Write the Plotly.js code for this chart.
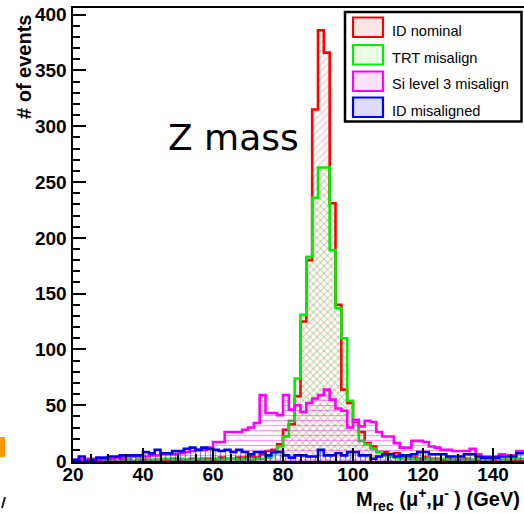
<!DOCTYPE html>
<html>
<head>
<meta charset="utf-8">
<script src="https://cdn.plot.ly/plotly-3.0.1.min.js"></script>
<style>
  html, body { margin: 0; padding: 0; overflow: hidden; background: #fff; }
</style>
</head>
<body>
<div id="chart"></div>
<script>
// Reconstructed dimuon invariant mass, 78 bins of 5/3 GeV from 20 to 150 GeV
const binLow = 20;
const binWidth = 5 / 3;

const idNominal = [
  0, 1, 0, 0, 1, 0, 1, 0, 1, 1,
  0, 1, 1, 0, 1, 1, 1, 2, 1, 1,
  2, 1, 2, 2, 1, 3, 2, 2, 3, 3,
  4, 3, 6, 9, 10, 15, 28, 33, 58, 125,
  180, 315, 386, 366, 231, 140, 64, 52, 35, 26,
  16, 13, 8, 8, 6, 7, 4, 3, 3, 2,
  3, 2, 2, 1, 2, 1, 1, 2, 1, 1,
  1, 1, 0, 1, 1, 0, 1, 1
];

const trtMisalign = [
  0, 0, 0, 1, 0, 0, 1, 0, 0, 1,
  0, 1, 0, 1, 1, 2, 2, 1, 2, 1,
  1, 2, 1, 1, 2, 1, 2, 2, 1, 2,
  1, 2, 2, 3, 7, 13, 22, 36, 74, 131,
  183, 236, 263, 263, 189, 137, 110, 54, 36, 18,
  15, 11, 8, 5, 4, 3, 2, 2, 2, 1,
  2, 1, 1, 2, 1, 1, 0, 1, 1, 2,
  1, 1, 2, 1, 1, 2, 2, 2
];

const siL3Misalign = [
  1, 1, 2, 2, 1, 2, 2, 3, 3, 4,
  4, 4, 4, 5, 5, 6, 6, 6, 7, 8,
  9, 10, 10, 12, 17, 17, 26, 26, 26, 28,
  30, 34, 59, 43, 43, 41, 59, 46, 50, 44,
  52, 56, 59, 64, 55, 47, 45, 30, 37, 31,
  36, 35, 26, 22, 22, 16, 12, 12, 18, 18,
  17, 13, 12, 10, 10, 9, 9, 9, 11, 6,
  4, 4, 4, 6, 5, 5, 9, 9
];

const idMisaligned = [
  1, 4, 0, 1, 3, 3, 4, 4, 5, 5,
  5, 5, 8, 7, 10, 7, 7, 9, 9, 11,
  12, 10, 12, 11, 10, 9, 10, 8, 10, 8,
  6, 8, 8, 5, 8, 8, 5, 3, 5, 5,
  4, 4, 10, 5, 5, 7, 5, 8, 8, 5,
  5, 2, 4, 6, 6, 4, 5, 5, 6, 8,
  8, 6, 6, 6, 4, 4, 4, 6, 6, 4,
  3, 3, 3, 4, 4, 4, 7, 7
];

const seriesNames = ['ID nominal', 'TRT misalign', 'Si level 3 misalign', 'ID misaligned'];
const xTickLabels = ['20', '40', '60', '80', '100', '120', '140'];
const yTickLabels = ['0', '50', '100', '150', '200', '250', '300', '350', '400'];

// ---- styling ----
const styles = [
  { color: '#ff0000', hatch: '/',  hatchColor: 'rgba(255,70,70,0.35)',  swatch: '#ffe6e6' },
  { color: '#00ee00', hatch: '\\', hatchColor: 'rgba(0,200,0,0.30)',    swatch: '#e6ffe6' },
  { color: '#ff00ff', hatch: '-',  hatchColor: 'rgba(255,0,255,0.40)',  swatch: '#ffe0ff' },
  { color: '#0000ff', hatch: '|',  hatchColor: 'rgba(0,0,255,0.45)',    swatch: '#dcdcff' }
];
const allValues = [idNominal, trtMisalign, siL3Misalign, idMisaligned];

const W = 532, H = 513;
const M = { l: 73, r: 4, t: 8, b: 52 };
const PW = W - M.l - M.r, PH = H - M.t - M.b;
const px = x => (x - M.l) / PW;          // page pixel -> paper x
const py = y => (M.t + PH - y) / PH;     // page pixel -> paper y

const nBins = idNominal.length;
const edges = Array.from({ length: nBins + 1 }, (_, i) => binLow + i * binWidth);

const traces = allValues.map((vals, i) => ({
  type: 'scatter',
  mode: 'lines',
  name: seriesNames[i],
  x: edges,
  y: vals.concat([vals[vals.length - 1]]),
  line: { shape: 'hv', color: styles[i].color, width: 2.6 },
  fill: 'tozeroy',
  fillcolor: 'rgba(0,0,0,0)',
  fillpattern: { shape: styles[i].hatch, fgcolor: styles[i].hatchColor, bgcolor: 'rgba(0,0,0,0)', size: 5, solidity: 0.25 },
  showlegend: false,
  hoverinfo: 'skip'
}));

const tickFont = { family: 'Liberation Sans, Arial, sans-serif', size: 19, color: '#000', weight: 'bold' };

const axisCommon = {
  showline: true, linewidth: 2.5, linecolor: '#000', mirror: true,
  ticks: 'inside', ticklen: 13, tickwidth: 2, tickcolor: '#000',
  showgrid: false, zeroline: false, tickfont: tickFont, fixedrange: true
};

// hand-built legend box in the upper right
const legendShapes = [{
  type: 'rect', xref: 'paper', yref: 'paper', layer: 'above',
  x0: px(345), x1: px(521.5), y0: py(121.5), y1: py(12),
  line: { color: '#000', width: 2.5 }, fillcolor: '#fff'
}];
const legendAnn = [];
const rowTop = [17.5, 45, 71.5, 97.5];
rowTop.forEach((t, i) => {
  legendShapes.push({
    type: 'rect', xref: 'paper', yref: 'paper', layer: 'above',
    x0: px(353), x1: px(383), y0: py(t + 19.5), y1: py(t),
    line: { color: styles[i].color, width: 2.2 }, fillcolor: styles[i].swatch
  });
  legendAnn.push({
    xref: 'paper', yref: 'paper', x: px(390), y: py(t + 13), xanchor: 'left', yanchor: 'middle',
    text: seriesNames[i], showarrow: false,
    font: { family: 'Liberation Sans, Arial, sans-serif', size: 14.6, color: '#000' }
  });
});

const layout = {
  width: W, height: H,
  margin: M,
  paper_bgcolor: '#fff', plot_bgcolor: '#fff',
  showlegend: false,
  xaxis: Object.assign({}, axisCommon, {
    range: [20, 150], tickmode: 'array',
    tickvals: xTickLabels.map(Number), ticktext: xTickLabels,
    ticklabelstandoff: -5,
    minor: { dtick: 5, tick0: 20, ticklen: 7, tickwidth: 2, tickcolor: '#000', ticks: 'inside' }
  }),
  yaxis: Object.assign({}, axisCommon, {
    range: [0, 406], tickmode: 'array',
    tickvals: yTickLabels.map(Number), ticktext: yTickLabels,
    minor: { dtick: 10, tick0: 0, ticklen: 7, tickwidth: 2, tickcolor: '#000', ticks: 'inside' }
  }),
  shapes: legendShapes.concat([
    // stray marks at the left border
    { type: 'rect', xref: 'paper', yref: 'paper', x0: px(0), x1: px(5), y0: py(457), y1: py(437),
      line: { width: 0 }, fillcolor: '#ff9900' },
    { type: 'line', xref: 'paper', yref: 'paper', x0: px(5), x1: px(2), y0: py(497), y1: py(508),
      line: { color: '#222', width: 2 } }
  ]),
  annotations: legendAnn.concat([
    { xref: 'paper', yref: 'paper', x: px(233.5), y: py(137), xanchor: 'center', yanchor: 'middle',
      text: 'Z mass', showarrow: false,
      font: { family: 'DejaVu Sans, sans-serif', size: 36, color: '#000' } },
    { xref: 'paper', yref: 'paper', x: px(24), y: py(67), xanchor: 'center', yanchor: 'middle',
      text: '# of events', textangle: -90, showarrow: false,
      font: { family: 'Liberation Sans, Arial, sans-serif', size: 20, color: '#000', weight: 'bold' } },
    { xref: 'paper', yref: 'paper', x: px(522), y: py(499), xanchor: 'right', yanchor: 'middle',
      text: 'M<sub>rec</sub> (\u03bc<sup>+</sup>,\u03bc<sup>-</sup> ) (GeV)', showarrow: false,
      font: { family: 'Liberation Sans, Arial, sans-serif', size: 20, color: '#000', weight: 'bold' } }
  ])
};

Plotly.newPlot('chart', traces, layout, { displayModeBar: false, staticPlot: true });
</script>
</body>
</html>
